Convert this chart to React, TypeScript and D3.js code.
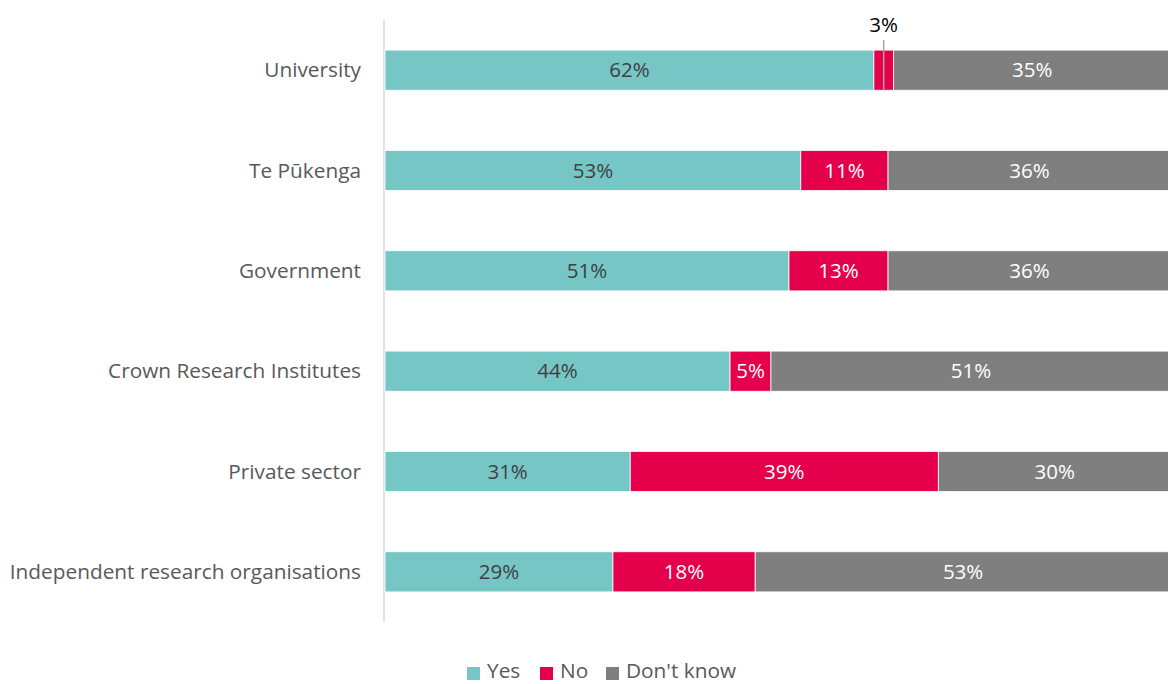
import React from "react";
import * as d3 from "d3";

const categories = [
  "University",
  "Te Pūkenga",
  "Government",
  "Crown Research Institutes",
  "Private sector",
  "Independent research organisations",
];
const yesValues = [62.2, 52.9, 51.4, 43.9, 31.2, 29.0];
const noValues = [2.5, 11.1, 12.6, 5.2, 39.2, 18.1];
const dontKnowValues = [35.3, 36.0, 36.0, 50.9, 29.6, 52.9];
const seriesNames = ["Yes", "No", "Don't know"];
const seriesColors = ["#76C6C6", "#E5004B", "#7F7F7F"];
const labelColors = ["#404040", "#FFFFFF", "#FFFFFF"];

const W = 1168;
const H = 684;
const FONT = "'Open Sans', sans-serif";

export default function App() {
  const x = d3.scaleLinear().domain([0, 100]).range([385, 1171]);
  const y = d3.scaleBand<string>().domain(categories).range([20, 622]).paddingInner(0.6).paddingOuter(0.3);
  const series = [yesValues, noValues, dontKnowValues];
  const rows = categories.map((c, i) => ({ c, vals: series.map((s) => s[i]) }));
  const stack = d3.stack<any>().keys(["0", "1", "2"]).value((d: any, k) => d.vals[+k]);
  const stacked = stack(rows as any);

  return (
    <svg width={W} height={H} style={{ position: "absolute", left: 0, top: 0 }}>
      <rect width={W} height={H} fill="#fff" />
      <line x1={384} x2={384} y1={20} y2={622} stroke="#D9D9D9" strokeWidth={1.5} />
      {categories.map((c) => (
        <text
          key={c}
          x={361}
          y={(y(c) as number) + y.bandwidth() / 2}
          dy="0.35em"
          textAnchor="end"
          fill="#595959"
          fontSize={20.8}
          fontFamily={FONT}
        >
          {c}
        </text>
      ))}
      {stacked.map((layer, si) => (
        <g key={si}>
          {layer.map((d, i) => {
            const c = categories[i];
            const x0 = x(d[0]);
            const x1 = x(d[1]);
            const yc = (y(c) as number) + y.bandwidth() / 2;
            const v = series[si][i];
            const small = x1 - x0 < 30;
            const xm = (x0 + x1) / 2;
            return (
              <g key={c}>
                <rect x={x0} y={y(c)} width={x1 - x0} height={y.bandwidth()} fill={seriesColors[si]} stroke="#fff" strokeWidth={0.8} />
                {small ? (
                  <g>
                    <line x1={xm} x2={xm} y1={40} y2={(y(c) as number) + y.bandwidth()} stroke="#A6A6A6" strokeWidth={1.5} />
                    <text x={xm} y={32} textAnchor="middle" fill="#000" fontSize={20.5} fontFamily={FONT}>
                      {Math.round(v)}%
                    </text>
                  </g>
                ) : (
                  <text x={xm} y={yc} dy="0.35em" textAnchor="middle" fill={labelColors[si]} fontSize={20.5} fontFamily={FONT}>
                    {Math.round(v)}%
                  </text>
                )}
              </g>
            );
          })}
        </g>
      ))}
      {(() => {
        const xs = [467, 540, 606];
        return seriesNames.map((n, i) => (
          <g key={n}>
            <rect x={xs[i]} y={667} width={13} height={13} fill={seriesColors[i]} />
            <text x={xs[i] + 20} y={671} dy="0.35em" fill="#595959" fontSize={20.8} fontFamily={FONT}>
              {n}
            </text>
          </g>
        ));
      })()}
    </svg>
  );
}
